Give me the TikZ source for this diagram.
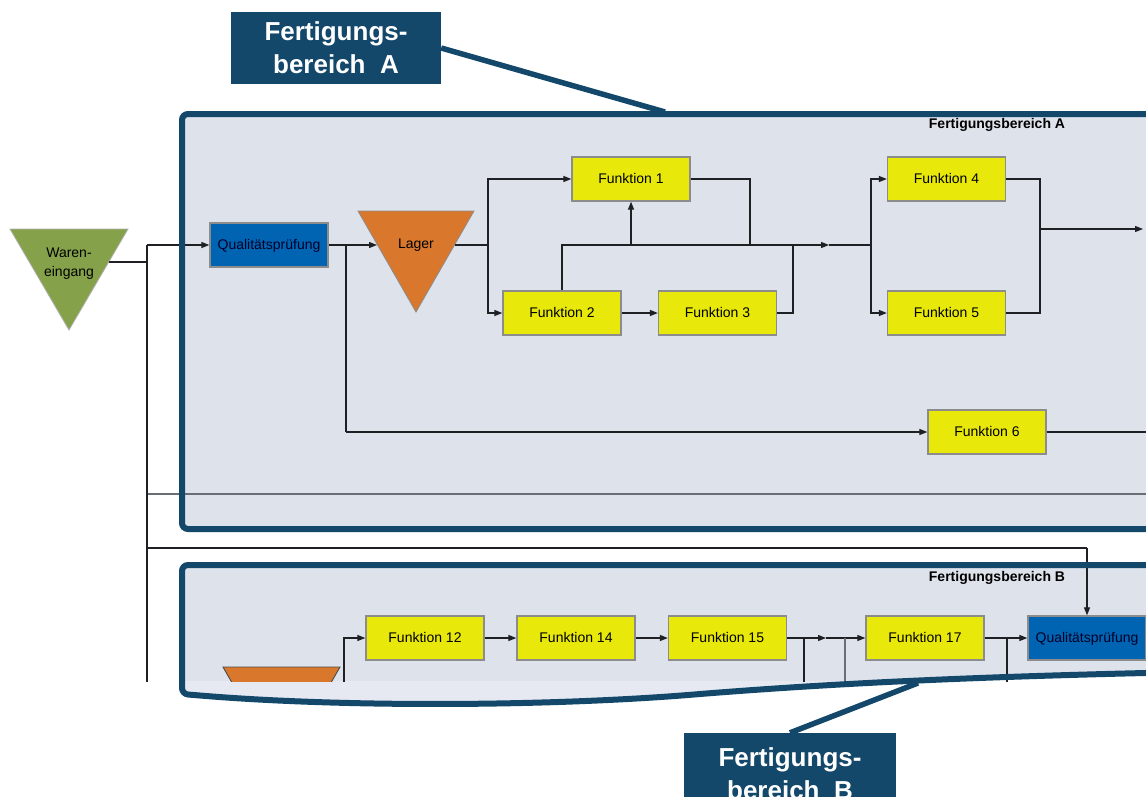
\documentclass[tikz,border=0pt]{standalone}
\usepackage{fontspec}
\setmainfont{Liberation Sans}
\usetikzlibrary{arrows.meta}
\definecolor{dblue}{RGB}{19,72,107}
\definecolor{regfill}{RGB}{222,226,235}
\definecolor{regfilltwo}{RGB}{230,233,241}
\definecolor{fyellow}{RGB}{232,232,10}
\definecolor{qblue}{RGB}{0,100,178}
\definecolor{lorange}{RGB}{217,120,45}
\definecolor{wgreen}{RGB}{133,162,74}
\definecolor{lgray}{RGB}{140,140,140}
\definecolor{conncol}{RGB}{30,32,36}
\definecolor{gline}{RGB}{105,110,118}
\begin{document}
\begin{tikzpicture}[x=1pt,y=-1pt,
  fbox/.style={draw=lgray, line width=1.3pt, fill=fyellow, minimum width=118pt, minimum height=44pt, inner sep=0pt, text height=10.5pt, text depth=1.5pt, font=\fontsize{14}{16}\selectfont},
  qbox/.style={fbox, fill=qblue, text=black!85!blue},
  conn/.style={draw=conncol, line width=1.2pt},
  arr/.style={conn, -{Triangle[length=8pt,width=6pt]}},
  grayline/.style={draw=gline, line width=1.6pt},
  regborder/.style={draw=dblue, line width=6pt},
  callbox/.style={fill=dblue, text=white, align=center, inner sep=0pt, font=\bfseries\fontsize{26}{33}\selectfont},
  callline/.style={draw=dblue, line width=5.5pt},
  reglabel/.style={font=\bfseries\fontsize{14}{16}\selectfont, inner sep=0pt},
  tritext/.style={font=\fontsize{14}{19}\selectfont, align=center, inner sep=0pt}
]
\useasboundingbox (0,0) rectangle (1146,796);
\clip (0,0) rectangle (1146,796);

% ---------- region fills ----------
\fill[regfill, rounded corners=6pt] (182,114) rectangle (1190,529);
\fill[regfill] (1190,565) [rounded corners=6pt] -- (182,565) -- (182,694) [sharp corners] -- (200,695.5) .. controls (350,708) and (560,706) .. (700,694) .. controls (850,682) and (1000,676) .. (1190,672) -- cycle;
\begin{scope}
  \clip (0,681) rectangle (1200,800);
  \fill[regfilltwo] (1190,565) [rounded corners=6pt] -- (182,565) -- (182,694) [sharp corners] -- (200,695.5) .. controls (350,708) and (560,706) .. (700,694) .. controls (850,682) and (1000,676) .. (1190,672) -- cycle;
\end{scope}

% ---------- content (cut at y = 681) ----------
\begin{scope}
\clip (0,0) rectangle (1146,681);

% shapes
\filldraw[fill=wgreen, draw=lgray!70, line width=0.8pt] (10,229) -- (128,229) -- (69,330) -- cycle;
\node[tritext] (waren) at (69,264) {Waren-\\eingang};
\filldraw[fill=lorange, draw=lgray, line width=0.8pt] (358,211) -- (474,211) -- (416,312) -- cycle;
\node[tritext, text height=10.5pt, text depth=1.5pt] (lager) at (416,244) {Lager};
\filldraw[fill=lorange, draw=black!70, line width=0.9pt] (223,667) -- (340,667) -- (281.5,769) -- cycle;

\node[qbox] (QPA) at (269,245) {Qualitätsprüfung};
\node[fbox] (F1) at (631,179) {Funktion 1};
\node[fbox] (F2) at (562,313) {Funktion 2};
\node[fbox] (F3) at (717.5,313) {Funktion 3};
\node[fbox] (F4) at (946.5,179) {Funktion 4};
\node[fbox] (F5) at (946.5,313) {Funktion 5};
\node[fbox] (F6) at (987,432) {Funktion 6};
\node[fbox] (F12) at (425,638) {Funktion 12};
\node[fbox] (F14) at (576,638) {Funktion 14};
\node[fbox] (F15) at (727.5,638) {Funktion 15};
\node[fbox] (F17) at (925,638) {Funktion 17};
\node[qbox] (QPB) at (1087,638) {Qualitätsprüfung};

\node[reglabel] (labA) at (997,125) {Fertigungsbereich A};
\node[reglabel] (labB) at (997,578) {Fertigungsbereich B};

% coordinates
\coordinate (wout) at (108.7,262);
\coordinate (jw) at (147,262);
\coordinate (jtop) at (147,245);
\coordinate (jbot) at (147,690);
\coordinate (j494) at (147,494);
\coordinate (r494) at (1160,494);
\coordinate (j548) at (147,548);
\coordinate (lagerin) at (377,245);
\coordinate (lagerout) at (455,245);
\coordinate (q1) at (346,245);
\coordinate (q2) at (346,432);
\coordinate (s1) at (488,245);
\coordinate (ma) at (829,245);
\coordinate (s2) at (871,245);
\coordinate (c750) at (750,245);
\coordinate (c793) at (793,245);
\coordinate (j45) at (1040,229);
\coordinate (outA) at (1143,229);
\coordinate (outF6) at (1160,432);
\coordinate (tb) at (344,690);
\coordinate (mb) at (826,638);
\coordinate (v804) at (804,638);
\coordinate (v804b) at (804,690);
\coordinate (v845) at (845,638);
\coordinate (v845b) at (845,690);
\coordinate (v1007) at (1007,638);
\coordinate (v1007b) at (1007,690);

% connectors region A
\draw[grayline] (j494) -- (r494);
\draw[conn] (wout) -- (jw);
\draw[conn] (jtop) -- (jbot);
\draw[arr] (jtop) -- (QPA.west);
\draw[arr] (QPA.east) -- (lagerin);
\draw[conn] (q1) -- (q2);
\draw[arr] (q2) -- (F6.west);
\draw[conn] (lagerout) -- (s1);
\draw[arr] (s1) |- (F1.west);
\draw[arr] (s1) |- (F2.west);
\draw[arr] (F2.north) |- (ma);
\draw[conn] (ma) -- (s2);
\draw[arr] (F2.north |- ma) -| (F1.south);
\draw[conn] (F1.east) -| (c750);
\draw[conn] (F3.east) -| (c793);
\draw[arr] (F2.east) -- (F3.west);
\draw[arr] (s2) |- (F4.west);
\draw[arr] (s2) |- (F5.west);
\draw[conn] (F4.east) -| (j45);
\draw[conn] (F5.east) -| (j45);
\draw[arr] (j45) -- (outA);
\draw[conn] (F6.east) -- (outF6);

% connectors region B
\draw[conn] (j548) -| (QPB.north |- j548);
\draw[arr] (QPB.north |- j548) -- (QPB.north);
\draw[arr] (tb) |- (F12.west);
\draw[arr] (F12.east) -- (F14.west);
\draw[arr] (F14.east) -- (F15.west);
\draw[arr] (F15.east) -- (mb);
\draw[arr] (mb) -- (F17.west);
\draw[conn] (v804) -- (v804b);
\draw[grayline, line width=1.3pt] (v845) -- (v845b);
\draw[arr] (F17.east) -- (QPB.west);
\draw[conn] (v1007) -- (v1007b);
\end{scope}

% ---------- region borders ----------
\draw[regborder, rounded corners=6pt] (182,114) rectangle (1190,529);
\draw[regborder] (1190,565) [rounded corners=6pt] -- (182,565) -- (182,694) [sharp corners] -- (200,695.5) .. controls (350,708) and (560,706) .. (700,694) .. controls (850,682) and (1000,676) .. (1190,672);

% ---------- callouts ----------
\node[callbox, minimum width=210pt, minimum height=72pt] (calA) at (336,48) {Fertigungs-\\bereich\ \ A};
\coordinate (cAend) at (665,112);
\draw[callline] (calA.east) -- (cAend);
\node[callbox, minimum width=212pt, minimum height=81pt] (calB) at (790,773.5) {Fertigungs-\\bereich\ \ B};
\coordinate (cBend) at (918,683);
\draw[callline] (calB.north) -- (cBend);
\end{tikzpicture}
\end{document}
